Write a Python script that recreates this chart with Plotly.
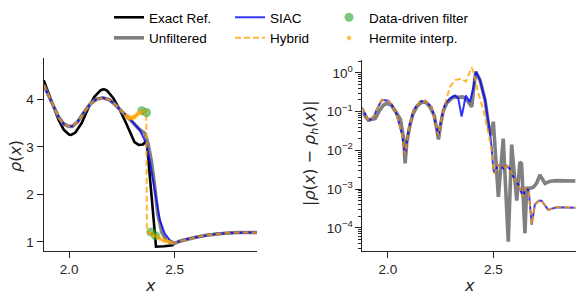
import plotly.graph_objects as go

# ---------------- Left panel: density rho(x) ----------------
x_exact = [1.88, 1.90, 1.925, 1.95, 1.975, 2.0, 2.01, 2.03, 2.06, 2.09, 2.12, 2.15, 2.165, 2.18,
           2.21, 2.24, 2.27, 2.29, 2.31, 2.33, 2.35, 2.368, 2.39, 2.412, 2.45, 2.49, 2.5,
           2.52, 2.55, 2.6, 2.65, 2.7, 2.75, 2.8, 2.85, 2.89]
rho_exact = [4.40, 4.15, 3.85, 3.57, 3.36, 3.26, 3.25, 3.30, 3.50, 3.80, 4.05, 4.19, 4.21, 4.18,
             4.02, 3.78, 3.50, 3.28, 3.10, 3.04, 3.05, 3.13, 2.05, 0.90, 0.91, 0.93, 0.97,
             1.01, 1.05, 1.10, 1.14, 1.17, 1.19, 1.20, 1.20, 1.20]

x_unf = [1.88, 1.90, 1.925, 1.95, 1.975, 2.0, 2.015, 2.04, 2.07, 2.10, 2.13, 2.16, 2.19, 2.22,
         2.25, 2.27, 2.30, 2.33, 2.35, 2.36, 2.375, 2.39, 2.405, 2.42, 2.44, 2.46, 2.48, 2.5,
         2.52, 2.55, 2.6, 2.65, 2.7, 2.75, 2.8, 2.85, 2.89]
rho_unf = [4.30, 4.10, 3.85, 3.63, 3.48, 3.43, 3.43, 3.52, 3.72, 3.90, 4.00, 4.03, 3.99, 3.88,
           3.74, 3.66, 3.52, 3.38, 3.30, 3.28, 3.05, 2.70, 2.20, 1.60, 1.20, 1.05, 0.99, 0.97,
           1.01, 1.05, 1.10, 1.14, 1.17, 1.19, 1.20, 1.20, 1.20]

x_siac = [1.88, 1.90, 1.925, 1.95, 1.975, 2.0, 2.015, 2.04, 2.07, 2.10, 2.13, 2.16, 2.19, 2.22,
          2.25, 2.27, 2.29, 2.335, 2.366, 2.382, 2.398, 2.414, 2.43, 2.453, 2.477, 2.5,
          2.52, 2.55, 2.6, 2.65, 2.7, 2.75, 2.8, 2.85, 2.89]
rho_siac = [4.30, 4.10, 3.85, 3.63, 3.48, 3.43, 3.43, 3.52, 3.72, 3.90, 4.00, 4.03, 3.99, 3.88,
            3.74, 3.66, 3.58, 3.35, 3.07, 2.72, 2.30, 1.88, 1.46, 1.18, 1.04, 0.98,
            1.01, 1.05, 1.10, 1.14, 1.17, 1.19, 1.20, 1.20, 1.20]

x_hyb = [1.88, 1.90, 1.925, 1.95, 1.975, 2.0, 2.015, 2.04, 2.07, 2.10, 2.13, 2.16, 2.19, 2.22,
         2.25, 2.264, 2.28, 2.295, 2.311, 2.327, 2.343, 2.366, 2.369, 2.39, 2.414, 2.445, 2.477,
         2.5, 2.52, 2.55, 2.6, 2.65, 2.7, 2.75, 2.8, 2.85, 2.89]
rho_hyb = [4.30, 4.10, 3.85, 3.63, 3.48, 3.43, 3.43, 3.52, 3.72, 3.90, 4.00, 4.03, 3.99, 3.88,
           3.74, 3.70, 3.60, 3.60, 3.63, 3.70, 3.74, 3.74, 1.22, 1.17, 1.11, 1.04, 1.01,
           0.98, 1.01, 1.05, 1.10, 1.14, 1.17, 1.19, 1.20, 1.20, 1.20]

x_ddf = [2.345, 2.367, 2.388, 2.41]
rho_ddf = [3.76, 3.72, 1.21, 1.13]

x_herm = [2.272, 2.28, 2.288, 2.295, 2.303, 2.311, 2.319, 2.327, 2.335, 2.355, 2.38, 2.40,
          2.42, 2.435, 2.45, 2.465, 2.48]
rho_herm = [3.66, 3.60, 3.62, 3.60, 3.61, 3.63, 3.66, 3.70, 3.72, 3.74, 1.19, 1.14,
            1.10, 1.06, 1.03, 1.02, 1.00]

# ---------------- Right panel: pointwise error ----------------
x_err_unf = [1.877, 1.895, 1.908, 1.925, 1.94, 1.96, 1.98, 1.995, 2.015, 2.043, 2.06, 2.075,
             2.082, 2.09, 2.105, 2.12, 2.14, 2.161, 2.18, 2.2, 2.22, 2.232, 2.24, 2.25, 2.263,
             2.28, 2.31, 2.33, 2.355, 2.375, 2.39, 2.398, 2.405, 2.417, 2.437, 2.461, 2.48,
             2.49, 2.5, 2.524, 2.547, 2.571, 2.587, 2.611, 2.626, 2.634, 2.65, 2.658, 2.675,
             2.69, 2.705, 2.721, 2.745, 2.77, 2.8, 2.85, 2.89]
err_unf = [1.0e-1, 7.1e-2, 6.0e-2, 6.3e-2, 6.6e-2, 1.05e-1, 1.48e-1, 1.62e-1, 1.51e-1, 8.9e-2,
           6.3e-2, 2.0e-2, 4.6e-3, 1.6e-2, 4.5e-2, 8.9e-2, 1.41e-1, 1.74e-1, 1.74e-1, 1.32e-1,
           7.9e-2, 3.5e-2, 1.9e-2, 4.5e-2, 1.05e-1, 1.66e-1, 2.4e-1, 2.34e-1, 2.4e-1, 2.0e-1,
           1.51e-1, 1.32e-1, 3.2e-1, 1.07, 6.5e-1, 2.0e-1, 3.5e-2, 2.5e-2, 5.5e-2, 6.3e-4,
           2.0e-2, 4.4e-5, 1.4e-2, 5.0e-4, 5.0e-3, 4.5e-3, 7.2e-5, 1.05e-3, 1.05e-3, 1.12e-3,
           1.4e-3, 2.3e-3, 1.4e-3, 1.6e-3, 1.65e-3, 1.65e-3, 1.62e-3]

x_err_siac = [1.877, 1.895, 1.908, 1.92, 1.935, 1.95, 1.972, 2.003, 2.035, 2.066, 2.082, 2.098,
              2.122, 2.153, 2.177, 2.208, 2.232, 2.24, 2.256, 2.271, 2.295, 2.319, 2.334, 2.35,
              2.37, 2.389, 2.405, 2.417, 2.437, 2.461, 2.48, 2.492, 2.5, 2.508, 2.52, 2.535,
              2.55, 2.565, 2.58, 2.6, 2.62, 2.64, 2.655, 2.668, 2.682, 2.697, 2.715, 2.729,
              2.76, 2.8, 2.85, 2.89]
err_siac = [1.3e-1, 7.9e-2, 6.0e-2, 6.3e-2, 7.9e-2, 1.2e-1, 2.0e-1, 1.9e-1, 1.1e-1, 2.75e-2,
            7.9e-3, 3.3e-2, 1.1e-1, 1.82e-1, 1.9e-1, 1.32e-1, 3.5e-2, 2.4e-2, 7.4e-2, 1.58e-1,
            2.2e-1, 2.6e-1, 2.2e-1, 7.4e-2, 2.6e-1, 1.78e-1, 4.0e-1, 1.07, 6.5e-1, 2.0e-1,
            4.1e-2, 1.23e-2, 3.2e-3, 2.5e-3, 4.2e-3, 3.8e-3, 3.4e-3, 4.0e-3, 3.2e-3, 1.8e-3,
            1.26e-3, 6.3e-4, 1.1e-3, 8.9e-4, 1.2e-4, 4.0e-4, 5.0e-4, 5.0e-4, 2.9e-4, 3.4e-4,
            3.4e-4, 3.3e-4]

x_err_hyb = [1.877, 1.895, 1.908, 1.92, 1.935, 1.95, 1.972, 2.003, 2.035, 2.066, 2.082, 2.098,
             2.122, 2.153, 2.177, 2.208, 2.232, 2.24, 2.256, 2.271, 2.295, 2.319, 2.35, 2.37,
             2.398, 2.41, 2.429, 2.453, 2.477, 2.492, 2.5, 2.508, 2.52, 2.535, 2.55, 2.565,
             2.58, 2.6, 2.62, 2.64, 2.655, 2.668, 2.682, 2.697, 2.715, 2.729, 2.76, 2.8, 2.85,
             2.89]
err_hyb = [1.3e-1, 7.9e-2, 6.0e-2, 6.3e-2, 7.9e-2, 1.2e-1, 2.0e-1, 1.9e-1, 1.1e-1, 2.75e-2,
           7.9e-3, 3.3e-2, 1.1e-1, 1.82e-1, 1.9e-1, 1.32e-1, 3.5e-2, 2.4e-2, 7.4e-2, 1.58e-1,
           4.4e-1, 6.5e-1, 7.1e-1, 5.9e-1, 1.38, 8.7e-1, 2.95e-1, 1.1e-1, 2.75e-2, 1.0e-2,
           3.2e-3, 2.5e-3, 4.2e-3, 3.8e-3, 3.4e-3, 4.0e-3, 3.2e-3, 1.8e-3, 1.26e-3, 6.3e-4,
           1.1e-3, 8.9e-4, 1.2e-4, 4.0e-4, 5.0e-4, 5.0e-4, 2.9e-4, 3.4e-4, 3.4e-4, 3.3e-4]

x_ticks = [2.0, 2.5]
x_ticktext = ["2.0", "2.5"]
rho_ticks = [1, 2, 3, 4]
err_ticks = [1e-4, 1e-3, 1e-2, 1e-1, 1e0]
err_ticktext = ["10<sup>−4</sup>", "10<sup>−3</sup>", "10<sup>−2</sup>", "10<sup>−1</sup>", "10<sup>0</sup>"]
err_minor = [m * 10.0 ** e for e in range(-5, 1) for m in range(2, 10)]

# ---------------- Styles ----------------
C_EXACT = "black"
C_UNF = "rgb(128,128,128)"
C_SIAC = "rgba(0,0,255,0.8)"
C_HYB = "rgba(255,165,0,0.8)"
C_DDF = "rgba(44,160,44,0.6)"
C_HERM = "rgba(255,165,0,0.8)"
AX = "#262626"
FONT = "Liberation Sans"

fig = go.Figure()

# left panel
fig.add_trace(go.Scatter(x=x_exact, y=rho_exact, mode="lines", name="Exact Ref.",
                         line=dict(color=C_EXACT, width=2.6), xaxis="x", yaxis="y", legend="legend"))
fig.add_trace(go.Scatter(x=x_unf, y=rho_unf, mode="lines", name="Unfiltered",
                         line=dict(color=C_UNF, width=3.6), xaxis="x", yaxis="y", legend="legend"))
fig.add_trace(go.Scatter(x=x_siac, y=rho_siac, mode="lines", name="SIAC",
                         line=dict(color=C_SIAC, width=2), xaxis="x", yaxis="y", legend="legend2"))
fig.add_trace(go.Scatter(x=x_hyb, y=rho_hyb, mode="lines", name="Hybrid",
                         line=dict(color=C_HYB, width=2, dash="6px,3px"), xaxis="x", yaxis="y",
                         legend="legend2"))
fig.add_trace(go.Scatter(x=x_ddf, y=rho_ddf, mode="markers", name="Data-driven filter",
                         marker=dict(color=C_DDF, size=9, line=dict(width=0)), xaxis="x", yaxis="y",
                         legend="legend3"))
fig.add_trace(go.Scatter(x=x_herm, y=rho_herm, mode="markers", name="Hermite interp.",
                         marker=dict(color=C_HERM, size=5, symbol="star", line=dict(width=0)),
                         xaxis="x", yaxis="y", legend="legend3"))

# right panel
fig.add_trace(go.Scatter(x=x_err_unf, y=err_unf, mode="lines", showlegend=False,
                         line=dict(color=C_UNF, width=3.6), xaxis="x2", yaxis="y2"))
fig.add_trace(go.Scatter(x=x_err_siac, y=err_siac, mode="lines", showlegend=False,
                         line=dict(color=C_SIAC, width=2), xaxis="x2", yaxis="y2"))
fig.add_trace(go.Scatter(x=x_err_hyb, y=err_hyb, mode="lines", showlegend=False,
                         line=dict(color=C_HYB, width=2, dash="6px,3px"), xaxis="x2", yaxis="y2"))

axis_common = dict(showline=True, linecolor=AX, linewidth=1.25, ticks="outside", ticklen=6,
                   tickwidth=1.25, tickcolor=AX, showgrid=False, zeroline=False,
                   tickfont=dict(family=FONT, size=13.5, color=AX))

fig.update_layout(
    width=581, height=299,
    margin=dict(l=0, r=0, t=0, b=0),
    paper_bgcolor="white", plot_bgcolor="white",
    xaxis=dict(domain=[0.0752, 0.4422], range=[1.88, 2.89], tickvals=x_ticks, ticktext=x_ticktext,
               anchor="y", **axis_common),
    yaxis=dict(domain=[0.1605, 0.805], range=[0.81, 4.86], tickvals=rho_ticks, anchor="x",
               **axis_common),
    xaxis2=dict(domain=[0.6239, 0.9907], range=[1.88, 2.89], tickvals=x_ticks, ticktext=x_ticktext,
                anchor="y2", **axis_common),
    yaxis2=dict(domain=[0.1605, 0.799], type="log", range=[-4.6, 0.33], tickvals=err_ticks,
                ticktext=err_ticktext, anchor="x2",
                minor=dict(tickvals=err_minor, ticks="outside", ticklen=3.5, tickwidth=1,
                           tickcolor=AX, showgrid=False),
                **axis_common),
    showlegend=True,
)

leg_common = dict(orientation="v", xanchor="left", yanchor="top", bgcolor="rgba(0,0,0,0)",
                  borderwidth=0, font=dict(family=FONT, size=13.5, color="black"),
                  tracegroupgap=0, itemwidth=30)
fig.update_layout(
    legend=dict(x=109 / 581, y=1 - 2 / 299, **leg_common),
    legend2=dict(x=230 / 581, y=1 - 2 / 299, **leg_common),
    legend3=dict(x=329 / 581, y=1 - 2 / 299, **leg_common),
)

MATH = "DejaVu Sans"
ann = [
    dict(text="<i>x</i>", x=150.3 / 581, y=1 - 285 / 299),
    dict(text="<i>x</i>", x=469 / 581, y=1 - 285 / 299),
    dict(text="<i>ρ</i>(<i>x</i>)", x=15 / 581, y=1 - 156 / 299, textangle=-90),
    dict(text="|<i>ρ</i>(<i>x</i>) − <i>ρ</i><sub><i>h</i></sub>(<i>x</i>)|", x=310 / 581,
         y=1 - 153 / 299, textangle=-90),
]
for a in ann:
    fig.add_annotation(xref="paper", yref="paper", showarrow=False, xanchor="center",
                       yanchor="middle", font=dict(family=MATH, size=16, color=AX), **a)

fig.write_html("out.html", config={"displayModeBar": False},
               post_script="document.body.style.margin='0px';")
